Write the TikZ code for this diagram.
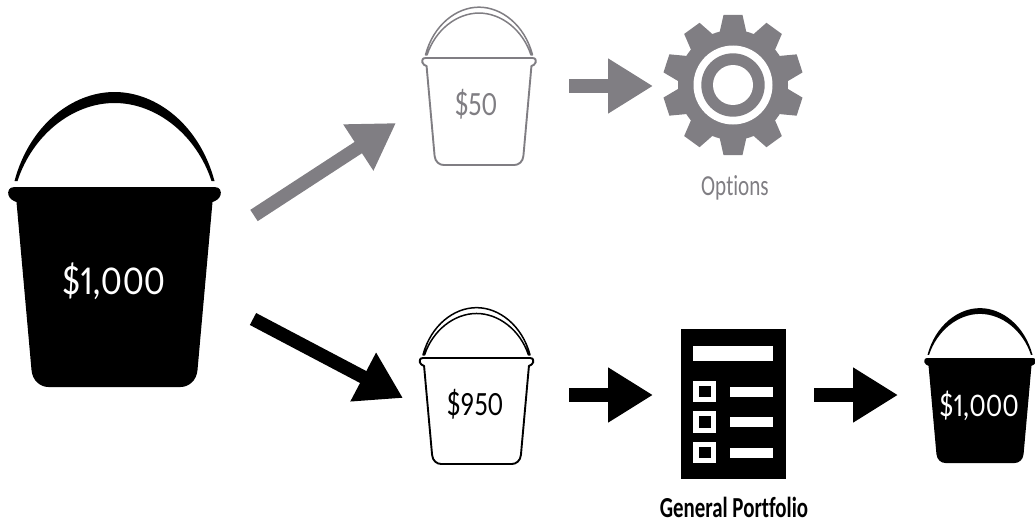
\documentclass[tikz,border=0pt]{standalone}
\usepackage{fontspec}
\setmainfont{Carlito}[Ligatures=NoCommon,Numbers=Proportional]
\usetikzlibrary{arrows.meta}
\definecolor{grayink}{HTML}{807E83}
\newcommand{\squeezed}[2]{\scalebox{#1}[1]{#2}}
\tikzset{
  x=1pt,y=-1pt,
  blockarrow/.style={line width=13.5pt,-{Triangle[length=45pt,width=52pt]}},
  bucket/.pic={
    \path[bucketbody,pic actions] (-100,0) -- (100,0) .. controls (106,0) and (107,5) .. (106,8) .. controls (105,12) and (101,14) .. (98,15) -- (83,183) .. controls (82,194) and (74,200) .. (66,200) -- (-66,200) .. controls (-74,200) and (-82,194) .. (-83,183) -- (-98,15) .. controls (-101,14) and (-105,12) .. (-106,8) .. controls (-107,5) and (-106,0) .. (-100,0) -- cycle;
    \path[buckethandle] (-100,-6) .. controls (-85,-62) and (-42,-95) .. (0,-95) .. controls (42,-95) and (85,-62) .. (100,-6) -- (97,-6) .. controls (82,-52) and (42,-84) .. (0,-84) .. controls (-42,-84) and (-82,-52) .. (-97,-6) -- cycle;
  },
  bucketbody/.style={},
  buckethandle/.style={},
  solidbucket/.style={bucketbody/.style={fill=black},buckethandle/.style={fill=black}},
  linebucket/.style={bucketbody/.style={draw=#1,line width=1.9pt,line join=round},buckethandle/.style={draw=#1,line width=1.5pt,line join=round}},
  label/.style={inner sep=0pt,anchor=base}
}
\newcommand{\geartooth}[1]{\fill[grayink,rotate around={#1:(gearc)}] ([shift={(-14,-50)}]gearc) -- ([shift={(-9.5,-70)}]gearc) -- ([shift={(9.5,-70)}]gearc) -- ([shift={(14,-50)}]gearc) -- cycle;}
\begin{document}
\begin{tikzpicture}
\useasboundingbox (0,0) rectangle (1035,519);
% buckets
\pic[solidbucket,x=1pt,y=-1pt] at (114.5,187) {bucket};
\node[label,text=white,font=\fontsize{41}{41}\selectfont] (bigtext) at (114,294) {\squeezed{0.88}{\$1,000}};
\begin{scope}[shift={(479,58)},x=0.535pt,y=-0.535pt]
\pic[linebucket=grayink] {bucket};
\end{scope}
\node[label,text=grayink,font=\fontsize{34}{34}\selectfont] (t50) at (476,115) {\squeezed{0.8}{\$50}};
\begin{scope}[shift={(476.5,358)},x=0.535pt,y=-0.53pt]
\pic[linebucket=black] {bucket};
\end{scope}
\node[label,font=\fontsize{34}{34}\selectfont] (t950) at (475,415) {\squeezed{0.8}{\$950}};
\begin{scope}[shift={(980,358)},x=0.525pt,y=-0.525pt]
\pic[solidbucket] {bucket};
\end{scope}
\node[label,text=white,font=\fontsize{33}{33}\selectfont] (t1000) at (979,416) {\squeezed{0.85}{\$1,000}};
% gear
\coordinate (gearc) at (733,85);
\fill[grayink] (gearc) circle (55);
\foreach \a in {0,36,...,324}{\geartooth{\a}}
\fill[white] (gearc) circle (39.5);
\fill[grayink] (gearc) circle (31.7);
\fill[white] (gearc) circle (20);
\node[label,text=grayink,font=\fontsize{29}{29}\selectfont] (opt) at (735,195) {\squeezed{0.73}{Options}};
% portfolio
\fill[black] (681,328.5) rectangle (786,479);
\fill[white] (693,346) rectangle (773,361);
\foreach \y in {391.5,422,452.5}{
  \fill[white] (693,\y-10.8) rectangle (716,\y+10.8);
  \fill[black] (699,\y-5.7) rectangle (711,\y+5.7);
  \fill[white] (730,\y-5) rectangle (773,\y+5);
}
\node[label,font=\fontsize{29}{29}\selectfont\bfseries] (gp) at (734,517) {\squeezed{0.72}{General Portfolio}};
% arrows
\coordinate (a1s) at (254,215.5);\coordinate (a1e) at (396,123);
\coordinate (a2s) at (253,319);\coordinate (a2e) at (403,398);
\coordinate (a3s) at (569,86);\coordinate (a3e) at (653,86);
\coordinate (a4s) at (569,395);\coordinate (a4e) at (653,395);
\coordinate (a5s) at (814,395);\coordinate (a5e) at (898,395);
\draw[blockarrow,grayink] (a1s) -- (a1e);
\draw[blockarrow,black] (a2s) -- (a2e);
\draw[blockarrow,grayink] (a3s) -- (a3e);
\draw[blockarrow,black] (a4s) -- (a4e);
\draw[blockarrow,black] (a5s) -- (a5e);
\end{tikzpicture}
\end{document}
